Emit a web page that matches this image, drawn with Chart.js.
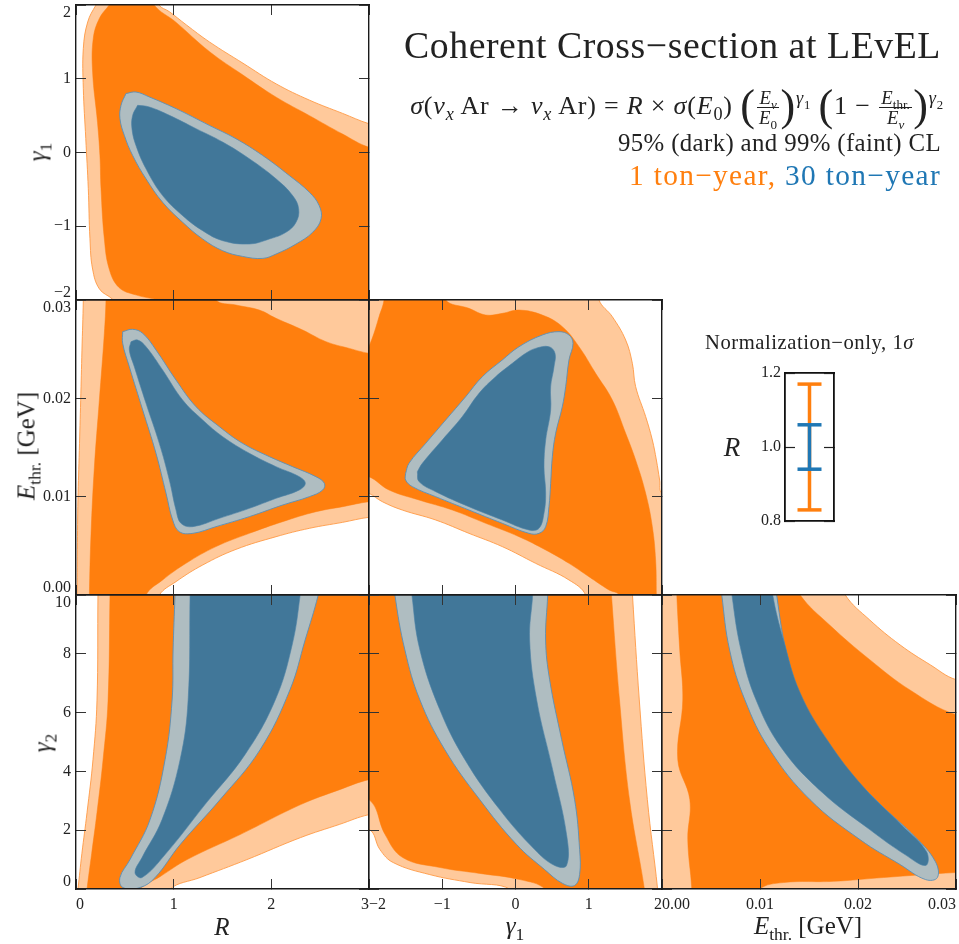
<!DOCTYPE html>
<html>
<head>
<meta charset="utf-8">
<title>Coherent Cross-section at LEvEL</title>
<script src="https://cdn.jsdelivr.net/npm/chart.js@4.4.1/dist/chart.umd.min.js"></script>
<style>
  html, body { margin: 0; padding: 0; background: #fff; }
  body { position: relative; width: 959px; height: 944px; overflow: hidden; font-family: 'Liberation Serif', 'DejaVu Serif', serif; color: #222; }
  canvas.layer { position: absolute; left: 0; top: 0; }
  .txt { position: absolute; left: 0; top: 0; white-space: nowrap; line-height: 1; z-index: 5; }
  .rot { transform: translate(-50%, -50%) rotate(-90deg); }
  .ctr { transform: translate(-50%, -50%); }
  .frac { display: inline-block; vertical-align: middle; text-align: center; font-size: 0.72em; margin: 0 0.08em; line-height: 1.05; letter-spacing: 0; }
  .frac > span { display: block; padding: 0 0.1em; }
  .frac > span + span { border-top: 1px solid #222; }
  .big { font-size: 1.7em; vertical-align: -0.14em; }
  sub, sup { font-size: 0.7em; line-height: 0; }
  .ax { font-size: 25px; }
  .sp { display: inline-block; width: 0.28em; }
</style>
</head>
<body>

<div id="title" class="txt" style="font-size:35px">Coherent Cross−section at LEvEL</div>
<div id="formula" class="txt" style="font-size:22px"><i>σ</i>(<i>ν</i><sub><i>x</i></sub> Ar<span class="sp"></span>→<span class="sp"></span><i>ν</i><sub><i>x</i></sub> Ar)<span class="sp"></span>=<span class="sp"></span><i>R</i><span class="sp"></span>×<span class="sp"></span><i>σ</i>(<i>E</i><sub>0</sub>) <span class="big">(</span><span class="frac"><span><i>E</i><sub><i>ν</i></sub></span><span><i>E</i><sub>0</sub></span></span><span class="big">)</span><sup><i>γ</i><sub>1</sub></sup> <span class="big">(</span>1<span class="sp"></span>−<span class="sp"></span><span class="frac"><span><i>E</i><sub>thr.</sub></span><span><i>E</i><sub><i>ν</i></sub></span></span><span class="big">)</span><sup><i>γ</i><sub>2</sub></sup></div>
<div id="cl" class="txt" style="font-size:23px">95% (dark) and 99% (faint) CL</div>
<div id="exposure" class="txt" style="font-size:23px"><span style="color:#ff7f0e">1 ton−year,</span> <span style="color:#1f77b4">30 ton−year</span></div>
<div id="normTitle" class="txt" style="font-size:18px">Normalization−only, 1<i>σ</i></div>

<div class="txt ax rot" style="left:37px;top:152px"><i>γ</i><sub>1</sub></div>
<div class="txt ax rot" style="left:26px;top:446px"><i>E</i><sub>thr.</sub> [GeV]</div>
<div class="txt ax rot" style="left:42px;top:743px"><i>γ</i><sub>2</sub></div>
<div class="txt ax ctr" style="left:222px;top:926px"><i>R</i></div>
<div class="txt ax ctr" style="left:515px;top:925px"><i>γ</i><sub>1</sub></div>
<div class="txt ax ctr" style="left:808px;top:925px"><i>E</i><sub>thr.</sub> [GeV]</div>
<div class="txt ctr" style="left:732px;top:447px;font-size:27px"><i>R</i></div>

<script>
const W = 959, H = 944;

// tick values
const rTicks = [0, 1, 2, 3];
const g1Ticks = [-2, -1, 0, 1, 2];
const eTicks = [0, 0.01, 0.02, 0.03];
const g2Ticks = [0, 2, 4, 6, 8, 10];
const normTicks = [0.8, 1.0, 1.2];

// --- R vs gamma1 (contours, [x, y]) ---
const rG1_1t_99 = [[0.35,2.3],[0.205,2.0],[0.12,1.77],[0.075,1.41],[0.075,0.87],[0.10,0.19],[0.126,-0.49],[0.143,-1.17],[0.17,-1.58],[0.24,-1.85],[0.375,-1.99],[0.6,-2.3],[3.4,-2.3],[3.4,0.25],[3.0,0.39],[2.73,0.53],[2.39,0.71],[2.05,0.93],[1.71,1.21],[1.365,1.5],[1.13,1.73],[0.955,1.91],[0.85,2.0],[0.75,2.3]];
const rG1_1t_95 = [[0.5,2.3],[0.34,2.0],[0.24,1.82],[0.177,1.55],[0.17,1.09],[0.22,0.41],[0.245,-0.04],[0.256,-0.49],[0.29,-1.17],[0.34,-1.58],[0.44,-1.83],[0.61,-1.93],[0.82,-1.99],[1.02,-2.03],[1.3,-2.3],[3.4,-2.3],[3.4,-0.05],[3.0,0.07],[2.73,0.25],[2.39,0.5],[2.05,0.75],[1.71,1.05],[1.365,1.37],[1.02,1.77],[0.8,2.0],[0.7,2.3]];
const rG1_30t_99 = [[0.512,0.80],[0.461,0.64],[0.45,0.46],[0.495,0.232],[0.58,-0.04],[0.717,-0.357],[0.887,-0.675],[1.092,-0.946],[1.297,-1.173],[1.502,-1.332],[1.706,-1.409],[1.911,-1.436],[2.048,-1.377],[2.253,-1.241],[2.423,-1.082],[2.509,-0.90],[2.49,-0.72],[2.39,-0.54],[2.184,-0.312],[1.911,-0.04],[1.638,0.187],[1.365,0.368],[1.024,0.595],[0.751,0.753],[0.614,0.82]];
const rG1_30t_95 = [[0.631,0.64],[0.58,0.504],[0.573,0.323],[0.614,0.096],[0.717,-0.221],[0.887,-0.584],[1.092,-0.856],[1.297,-1.06],[1.502,-1.196],[1.775,-1.241],[1.98,-1.173],[2.15,-1.082],[2.253,-0.946],[2.28,-0.765],[2.218,-0.584],[2.048,-0.357],[1.775,-0.085],[1.502,0.141],[1.229,0.323],[0.956,0.504],[0.751,0.617]];

// --- R vs E_thr ---
const rE_1t_99 = [[0.075,0.032],[0.075,0.030],[0.061,0.0249],[0.048,0.0198],[0.034,0.0147],[0.02,0.0097],[0.014,0.0046],[0.01,0.0],[0.0,-0.002],[0.8,-0.002],[0.853,0.0],[1.024,0.00136],[1.297,0.00305],[1.638,0.00464],[2.048,0.00593],[2.389,0.00678],[2.73,0.00739],[3.0,0.0079],[3.3,0.0081],[3.3,0.032]];
const rE_1t_95 = [[0.307,0.032],[0.307,0.030],[0.29,0.0266],[0.239,0.0198],[0.188,0.0130],[0.154,0.00627],[0.137,0.0],[0.137,-0.002],[0.7,-0.002],[0.717,0.0],[0.887,0.00153],[1.126,0.00322],[1.433,0.00492],[1.775,0.00627],[2.116,0.00746],[2.457,0.00847],[2.73,0.00898],[3.0,0.00949],[3.3,0.0097],[3.3,0.0243],[3.0,0.02458],[2.799,0.02508],[2.56,0.02576],[2.321,0.02695],[2.048,0.02814],[1.877,0.02898],[1.638,0.02949],[1.433,0.030],[1.4,0.032]];
const rE_30t_99 = [[0.478,0.02678],[0.58,0.02702],[0.683,0.02661],[0.819,0.02492],[1.024,0.02186],[1.229,0.01915],[1.468,0.01712],[1.706,0.01542],[1.98,0.01407],[2.218,0.01305],[2.457,0.01203],[2.543,0.01136],[2.526,0.01068],[2.389,0.01],[2.116,0.00915],[1.775,0.00797],[1.433,0.00695],[1.195,0.00627],[1.058,0.00644],[0.99,0.00763],[0.922,0.01034],[0.819,0.01441],[0.683,0.01881],[0.546,0.02322],[0.478,0.02559]];
const rE_30t_95 = [[0.563,0.02576],[0.631,0.02593],[0.717,0.02525],[0.887,0.02288],[1.092,0.01983],[1.297,0.0178],[1.502,0.0161],[1.775,0.01441],[2.048,0.01305],[2.287,0.01203],[2.348,0.01136],[2.287,0.01068],[2.048,0.00983],[1.775,0.00881],[1.468,0.0078],[1.195,0.00695],[1.075,0.00729],[1.024,0.00864],[0.956,0.01169],[0.853,0.01542],[0.717,0.01949],[0.597,0.02322],[0.546,0.02492]];

// --- gamma1 vs E_thr ---
const g1E_1t_99 = [[-2.3,0.032],[1.14,0.032],[1.14,0.030],[1.322,0.0283],[1.504,0.02593],[1.595,0.02356],[1.64,0.02119],[1.777,0.01814],[1.868,0.01576],[1.923,0.01373],[1.968,0.01169],[2.0,0.01034],[2.3,0.0095],[2.3,-0.002],[0.95,-0.002],[0.958,0.0],[0.730,0.00153],[0.275,0.00322],[-0.18,0.00492],[-0.635,0.00627],[-1.09,0.00763],[-1.545,0.00864],[-1.818,0.00949],[-2.0,0.01034],[-2.3,0.0112]];
const g1E_1t_95 = [[-2.0,0.02525],[-1.932,0.02661],[-1.863,0.0283],[-1.795,0.030],[-1.79,0.032],[-0.953,0.032],[-0.953,0.030],[-0.635,0.02915],[-0.407,0.02847],[-0.18,0.02864],[0.048,0.02898],[0.366,0.02847],[0.639,0.02729],[0.867,0.02525],[1.094,0.02254],[1.322,0.01983],[1.504,0.01644],[1.64,0.01373],[1.777,0.01034],[1.868,0.00695],[1.913,0.00356],[1.923,0.0],[1.923,-0.002],[1.41,-0.002],[1.413,0.0],[1.276,0.00051],[1.003,0.00186],[0.730,0.00322],[0.412,0.00458],[0.048,0.00593],[-0.407,0.00729],[-0.862,0.00864],[-1.317,0.00966],[-1.727,0.01068],[-2.0,0.01203],[-2.3,0.0125],[-2.3,0.0245]];
const g1E_30t_99 = [[-1.5,0.01237],[-1.454,0.01339],[-1.226,0.01542],[-0.953,0.0178],[-0.68,0.02017],[-0.453,0.0222],[-0.18,0.0239],[0.048,0.02525],[0.366,0.02644],[0.594,0.02678],[0.730,0.02644],[0.785,0.02559],[0.730,0.0239],[0.685,0.02119],[0.639,0.01915],[0.548,0.01644],[0.503,0.01407],[0.48,0.01136],[0.457,0.00898],[0.412,0.00695],[0.321,0.00627],[0.184,0.00627],[-0.18,0.00729],[-0.635,0.00864],[-1.09,0.01],[-1.408,0.01102],[-1.5,0.01169]];
const g1E_30t_95 = [[-1.34,0.01254],[-1.272,0.01339],[-1.0,0.01576],[-0.726,0.01814],[-0.498,0.02051],[-0.271,0.0222],[-0.043,0.02356],[0.139,0.02458],[0.275,0.02508],[0.457,0.02525],[0.539,0.02458],[0.526,0.02322],[0.48,0.02119],[0.48,0.01881],[0.412,0.01576],[0.389,0.01305],[0.412,0.01034],[0.389,0.00831],[0.321,0.00678],[0.184,0.00661],[-0.18,0.00763],[-0.635,0.00898],[-1.09,0.01051],[-1.317,0.01153]];

// --- R vs gamma2 ---
const rG2_1t_99 = [[0.23,10.5],[0.225,10],[0.215,6.4],[0.174,4.4],[0.113,2.6],[0.06,1.2],[0.02,0],[0.0,-0.5],[0.95,-0.5],[0.963,0],[1.27,0.39],[1.75,1.0],[2.3,1.75],[2.7,2.2],[3.0,2.53],[3.5,2.8],[3.5,10.5]];
const rG2_1t_95 = [[0.35,10.5],[0.348,10],[0.328,6.4],[0.277,4.4],[0.215,2.6],[0.16,1.2],[0.113,0],[0.1,-0.5],[0.6,-0.5],[0.656,0],[0.86,0.42],[1.137,1.0],[1.68,1.85],[2.3,2.87],[2.7,3.38],[3.0,3.72],[3.5,4.0],[3.5,10.5]];
const rG2_30t_99 = [[1.02,10.5],[1.014,10],[0.994,8.13],[0.984,6.43],[0.912,4.4],[0.758,2.36],[0.553,1.0],[0.45,0.39],[0.48,0.05],[0.656,0.05],[0.81,0.39],[1.066,1.51],[1.475,3.04],[1.885,4.74],[2.19,6.77],[2.346,8.47],[2.48,10.0],[2.5,10.5]];
const rG2_30t_95 = [[1.17,10.5],[1.168,10],[1.148,6.43],[1.066,4.4],[0.881,2.36],[0.676,1.07],[0.604,0.56],[0.676,0.39],[0.912,1.17],[1.32,2.87],[1.73,4.57],[2.04,6.43],[2.213,8.3],[2.295,10.0],[2.3,10.5]];

// --- gamma1 vs gamma2 ---
const g1G2_1t_99 = [[-2.5,10.5],[1.59,10.5],[1.597,10],[1.69,6.43],[1.80,3.04],[1.94,0],[1.95,-0.5],[-0.1,-0.5],[-0.08,0],[-0.62,0.22],[-1.17,0.49],[-1.67,0.9],[-1.85,1.34],[-2.0,2.03],[-2.5,2.2]];
const g1G2_1t_95 = [[-2.5,10.5],[1.3,10.5],[1.31,10],[1.42,6.43],[1.556,3.04],[1.76,0],[1.77,-0.5],[0.4,-0.5],[0.4,0],[0.06,0.32],[-0.49,0.53],[-1.03,0.73],[-1.54,1.07],[-1.78,1.85],[-2.0,3.04],[-2.5,3.3]];
const g1G2_30t_99 = [[-1.65,10.5],[-1.646,10],[-1.51,8.13],[-1.305,6.43],[-0.965,4.74],[-0.488,3.04],[0.016,1.51],[0.398,0.66],[0.643,0.19],[0.807,0.12],[0.875,0.49],[0.875,1.34],[0.807,3.04],[0.63,5.08],[0.466,7.12],[0.411,8.47],[0.439,10],[0.44,10.5]];
const g1G2_30t_95 = [[-1.42,10.5],[-1.414,10],[-1.305,8.13],[-1.033,6.1],[-0.69,4.4],[-0.215,2.7],[0.262,1.34],[0.534,0.8],[0.697,0.8],[0.697,1.85],[0.507,4.06],[0.289,6.43],[0.193,8.47],[0.234,10],[0.24,10.5]];

// --- E_thr vs gamma2 ---
const eG2_1t_99 = [[-0.002,10.5],[-0.002,-0.5],[0.034,-0.5],[0.034,6.9],[0.03,7.12],[0.0274,7.62],[0.0243,8.3],[0.0212,9.15],[0.0187,10],[0.0185,10.5]];
const eG2_1t_95 = [[0.0015,10.5],[0.00151,10],[0.00181,8.13],[0.00212,6.43],[0.00161,4.4],[0.00284,3.04],[0.00263,1.68],[0.00304,0],[0.003,-0.5],[0.0098,-0.5],[0.01,0],[0.0124,0.22],[0.0175,0.26],[0.0226,0.39],[0.03,0.56],[0.034,0.6],[0.034,5.8],[0.03,5.93],[0.0253,6.77],[0.0212,7.8],[0.0171,8.98],[0.0141,10],[0.0138,10.5]];
const eG2_30t_99 = [[0.006,10.5],[0.0061,10],[0.0069,8.13],[0.00846,6.43],[0.011,4.74],[0.0151,3.04],[0.0202,1.68],[0.0243,0.83],[0.0269,0.32],[0.0281,0.39],[0.0279,0.93],[0.0259,1.75],[0.0223,2.87],[0.0182,4.33],[0.0149,6.03],[0.0129,7.79],[0.0117,10],[0.0117,10.5]];
const eG2_30t_95 = [[0.0071,10.5],[0.00714,10],[0.00806,8.13],[0.0096,6.43],[0.0122,4.8],[0.0163,3.3],[0.0212,2.02],[0.0248,1.17],[0.0269,0.8],[0.027,1.27],[0.0245,2.16],[0.0206,3.45],[0.0170,5.0],[0.0141,6.67],[0.0124,8.47],[0.0113,10],[0.0113,10.5]];

// normalization-only fit, 1 sigma
const normSeries = ['1 ton-year', '30 ton-year'];
const normCentre = [1.0, 1.0];
const normError = [0.17, 0.06];

const ORANGE = '#ff7f0e', BLUE = '#1f77b4';
const styles = {
  o99: { fill: '#ffc99b', edge: '#ff9a45', width: 0.9, order: 4 },
  o95: { fill: '#ff7f0e', edge: '#ff7f0e', width: 0.5, order: 3 },
  b99: { fill: '#afbdc1', edge: '#5a90b8', width: 0.9, order: 2 },
  b95: { fill: '#417799', edge: '#4b82a6', width: 0.6, order: 1 }
};

const SERIF = "'Liberation Serif', 'DejaVu Serif', serif";
const fmtMinus = v => (v < 0 ? '\u2212' + Math.abs(v) : String(v));

function addCanvas() {
  const cv = document.createElement('canvas');
  cv.width = W; cv.height = H; cv.className = 'layer';
  document.body.insertBefore(cv, document.body.firstChild);
  return cv;
}

function axis(ticks, pos, size, showLabels, fmt, ends) {
  const vertical = pos === 'left' || pos === 'right';
  return {
    type: 'linear', position: pos,
    min: ticks[0], max: ticks[ticks.length - 1],
    afterBuildTicks: s => { s.ticks = ticks.map(v => ({ value: v })); },
    afterFit: s => {
      if (vertical) s.width = size; else s.height = size;
      s.paddingLeft = s.paddingRight = s.paddingTop = s.paddingBottom = 0;
    },
    ticks: {
      display: showLabels, autoSkip: false, maxRotation: 0,
      color: '#222',
      padding: vertical ? 15 : 16,
      align: vertical ? 'center' : 'inner',
      font: { family: SERIF, size: 16, lineHeight: vertical ? 0.95 : 1.2 },
      callback: (v, i, t) => {
        const s = fmt(v);
        if (!vertical || !ends) return s;
        if (i === t.length - 1) return ['', s];
        if (i === 0) return [s, ''];
        return s;
      }
    },
    grid: { drawOnChartArea: false, tickLength: -10, tickColor: '#333', tickWidth: 1, z: 1 },
    border: { display: true, color: '#1a1a1a', width: 1.4, z: 1 }
  };
}

function panel(box, xt, yt, xfmt, yfmt, layers, showX, showY) {
  const [bx, by, bw, bh] = box;
  const datasets = layers.map(([pts, key]) => ({
    data: pts.concat([pts[0]]).map(p => ({ x: p[0], y: p[1] })),
    showLine: true, fill: 'shape', tension: 0.4, clip: 0,
    backgroundColor: styles[key].fill, borderColor: styles[key].edge,
    borderWidth: styles[key].width, pointRadius: 0, order: styles[key].order
  }));
  new Chart(addCanvas(), {
    type: 'scatter',
    data: { datasets },
    options: {
      responsive: false, animation: false, devicePixelRatio: 1,
      layout: { padding: 0 },
      plugins: { legend: { display: false }, tooltip: { enabled: false } },
      elements: { line: { capBezierPoints: false } },
      scales: {
        x: axis(xt, 'bottom', H - by - bh, showX, xfmt, true),
        x2: axis(xt, 'top', by, false, xfmt, false),
        y: axis(yt, 'left', bx, showY, yfmt, true),
        y2: axis(yt, 'right', W - bx - bw, false, yfmt, false)
      }
    }
  });
}

const fmtE = v => v.toFixed(2);
const colX = [76, 369, 662], colW = [293, 293, 294];
const rowY = [5, 300, 595], rowH = [295, 295, 294];
const box = (c, r) => [colX[c], rowY[r], colW[c], rowH[r]];

panel(box(0, 0), rTicks, g1Ticks, fmtMinus, fmtMinus,
  [[rG1_1t_99, 'o99'], [rG1_1t_95, 'o95'], [rG1_30t_99, 'b99'], [rG1_30t_95, 'b95']], false, true);
panel(box(0, 1), rTicks, eTicks, fmtMinus, fmtE,
  [[rE_1t_99, 'o99'], [rE_1t_95, 'o95'], [rE_30t_99, 'b99'], [rE_30t_95, 'b95']], false, true);
panel(box(1, 1), g1Ticks, eTicks, fmtMinus, fmtE,
  [[g1E_1t_99, 'o99'], [g1E_1t_95, 'o95'], [g1E_30t_99, 'b99'], [g1E_30t_95, 'b95']], false, false);
panel(box(0, 2), rTicks, g2Ticks, fmtMinus, fmtMinus,
  [[rG2_1t_99, 'o99'], [rG2_1t_95, 'o95'], [rG2_30t_99, 'b99'], [rG2_30t_95, 'b95']], true, true);
panel(box(1, 2), g1Ticks, g2Ticks, fmtMinus, fmtMinus,
  [[g1G2_1t_99, 'o99'], [g1G2_1t_95, 'o95'], [g1G2_30t_99, 'b99'], [g1G2_30t_95, 'b95']], true, false);
panel(box(2, 2), eTicks, g2Ticks, fmtE, fmtMinus,
  [[eG2_1t_99, 'o99'], [eG2_1t_95, 'o95'], [eG2_30t_99, 'b99'], [eG2_30t_95, 'b95']], true, false);

// inset: normalization-only error bars (blue drawn over orange)
(function () {
  const bx = 785, by = 373, bw = 49, bh = 148;
  const colors = [ORANGE, BLUE];
  const datasets = normSeries.map((name, i) => ({
    label: name,
    data: [{ x: 0, y: normCentre[i] - normError[i] }, { x: 0, y: normCentre[i] + normError[i] }],
    showLine: true, borderColor: colors[i], borderWidth: 3.5,
    pointStyle: 'line', pointRadius: 12, pointBorderWidth: 3.5,
    pointBorderColor: colors[i], clip: false, order: 2 - i
  }));
  const yAx = (pos, size, show) => ({
    type: 'linear', position: pos, min: 0.8, max: 1.2,
    afterBuildTicks: s => { s.ticks = normTicks.map(v => ({ value: v })); },
    afterFit: s => { s.width = size; s.paddingTop = s.paddingBottom = 0; },
    ticks: { display: show, autoSkip: false, color: '#222', padding: 14, font: { family: SERIF, size: 16 }, callback: v => v.toFixed(1) },
    grid: { drawOnChartArea: false, tickLength: -10, tickColor: '#222', tickWidth: 1.2, z: 1 },
    border: { display: true, color: '#111', width: 1.8, z: 1 }
  });
  const xAx = (pos, size) => ({
    type: 'linear', position: pos, min: -1, max: 1,
    afterFit: s => { s.height = size; s.paddingLeft = s.paddingRight = 0; },
    ticks: { display: false },
    grid: { display: true, drawOnChartArea: false, drawTicks: false, z: 1 },
    border: { display: true, color: '#111', width: 1.8, z: 1 }
  });
  new Chart(addCanvas(), {
    type: 'scatter',
    data: { datasets },
    options: {
      responsive: false, animation: false, devicePixelRatio: 1,
      layout: { padding: 0 },
      plugins: { legend: { display: false }, tooltip: { enabled: false } },
      scales: {
        x: xAx('bottom', H - by - bh), x2: xAx('top', by),
        y: yAx('left', bx, true), y2: yAx('right', W - bx - bw, false)
      }
    }
  });
})();

// place the header texts: part of the width gap goes to font size, the rest to letter spacing
function place(id, o) {
  const el = document.getElementById(id);
  const fs = parseFloat(getComputedStyle(el).fontSize);
  let r = el.getBoundingClientRect();
  el.style.fontSize = (fs * Math.pow(o.width / r.width, 0.7)) + 'px';
  r = el.getBoundingClientRect();
  const n = el.textContent.length;
  el.style.letterSpacing = ((o.width - r.width) / n) + 'px';
  r = el.getBoundingClientRect();
  el.style.left = (o.right != null ? o.right - r.width : o.left) + 'px';
  el.style.top = (o.cy - r.height / 2) + 'px';
}
place('title', { right: 941, width: 537, cy: 46 });
place('formula', { right: 944, width: 543, cy: 106 });
place('cl', { right: 941, width: 323, cy: 143 });
place('exposure', { right: 941, width: 312, cy: 176 });
place('normTitle', { left: 705, width: 209, cy: 342 });
</script>
</body>
</html>
